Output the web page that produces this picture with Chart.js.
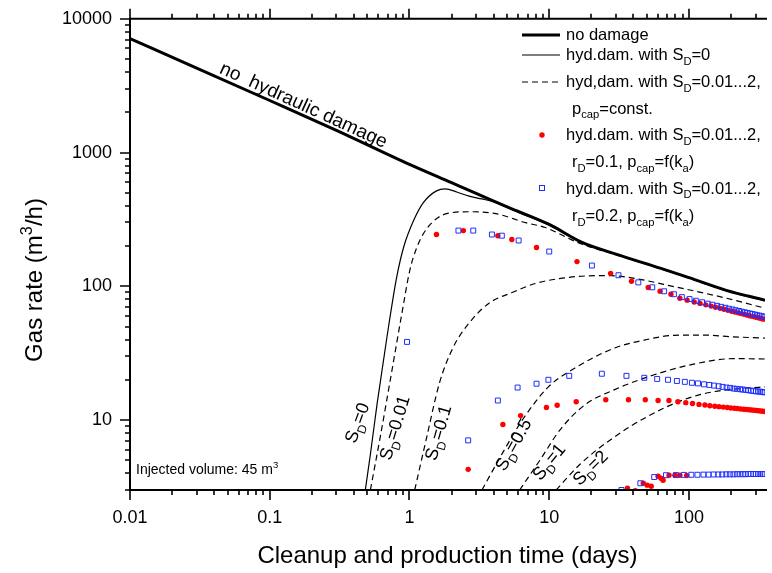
<!DOCTYPE html>
<html><head><meta charset="utf-8">
<script src="https://cdn.jsdelivr.net/npm/chart.js@4.4.1/dist/chart.umd.min.js"></script>
<style>html,body{margin:0;padding:0;background:#fff;}canvas{display:block;}</style>
</head><body>
<canvas id="c" width="772" height="573"></canvas>
<script>
// ---------------- data ----------------
const noDamageT = [0.01, 0.03, 0.1, 0.3, 1, 2, 3, 5, 10, 17, 30, 63, 100, 185, 350];
const noDamageQ = [7100, 4280, 2450, 1465, 815, 595, 495, 393, 290, 214, 174, 136, 116, 93.3, 78.7];

const sd0T = [0.483, 0.527, 0.588, 0.69, 0.81, 0.908, 1.07, 1.26, 1.56, 1.8, 2.2, 2.67, 3.3, 4.1, 5, 6, 10, 17, 30, 63, 100, 185, 350];
const sd0Q = [3, 5.7, 13.5, 41.8, 117, 196, 310, 424, 517, 536, 505, 472, 450, 424, 389, 357, 287, 213, 174, 136, 116, 93.3, 78.7];

const sd001T = [0.525, 0.618, 0.75, 0.883, 1.006, 1.13, 1.33, 1.84, 2.67, 4.15, 6.78, 9.38, 16.1, 30, 63, 100, 185, 350];
const sd001Q = [3, 7.5, 23.7, 63, 132, 196, 270, 349, 361, 349, 299, 275, 212, 172, 135, 115, 92.5, 78];

const sd01T = [1.09, 1.33, 1.64, 2.06, 2.67, 3.71, 5.48, 7.97, 12.4, 21.2, 28, 36.3, 82, 185, 350];
const sd01Q = [3, 7.5, 19.0, 35.2, 53.1, 74.8, 90.2, 105, 115, 120, 120, 117, 98.4, 81.5, 68.6];

const sd05T = [3.3, 4.66, 6.46, 9.86, 15.3, 29.4, 50, 78, 130, 198, 350];
const sd05Q = [3, 5.73, 10.1, 17.7, 24.5, 34.6, 40, 43, 43.2, 42, 41];

const sd1T = [6.14, 8.65, 12.0, 18.0, 29.4, 56.4, 108, 208, 350];
const sd1Q = [3, 5.08, 8.5, 13.0, 16.9, 21.8, 26.2, 28.8, 28.6];

const sd2T = [11.2, 16.6, 29.4, 50.2, 91.8, 150, 250, 350];
const sd2Q = [3, 4.67, 7.5, 10.6, 14.2, 16.3, 17.3, 17.7];

// r_D = 0.1 (red dots)
const redT = [1.56, 2.43, 4.29, 5.40, 8.11, 15.8, 27.5, 38.8, 51.1, 62.1, 74.3, 86, 97, 109, 120, 132, 144, 155, 167, 178, 190, 202, 213, 225, 236, 248, 260, 271, 283, 294, 306, 318, 329, 341,
  2.63, 4.66, 6.24, 9.55, 11.4, 15.6, 25.4, 36.9, 48.7, 60.1, 71.9, 83.3, 94.9, 106, 118, 130, 141, 153, 164, 176, 188, 199, 211, 222, 234, 246, 257, 269, 280, 292, 304, 315, 327, 338, 349,
  36.3, 41.3, 47.1, 50.2, 53.7, 60.1, 63.1, 65.3, 72, 79.3, 86, 96.4];
const redQ = [244, 261, 239, 224, 195, 153, 125, 109, 98, 91.8, 87.3, 81.5, 78.8, 76.4, 74.5, 72.7, 71.1, 69.7, 68.4, 67.3, 66.1, 65.1, 64.2, 63.3, 62.5, 61.7, 61.0, 60.3, 59.6, 59.1, 58.5, 57.9, 57.4, 56.8,
  4.28, 9.27, 10.8, 12.4, 12.9, 13.7, 14.2, 14.2, 14.2, 14.0, 14.0, 13.7, 13.5, 13.3, 13.1, 12.95, 12.8, 12.7, 12.6, 12.5, 12.4, 12.3, 12.25, 12.2, 12.1, 12.05, 12.0, 11.95, 11.9, 11.85, 11.8, 11.75, 11.7, 11.65, 11.6,
  3.1, 2.97, 3.37, 3.26, 3.2, 3.8, 3.67, 3.55, 3.87, 3.87, 3.87, 3.85];

// r_D = 0.2 (blue open squares)
const blueT = [0.96, 2.24, 2.86, 3.89, 4.58, 6.04, 10.0, 20.2, 31.3, 43.4, 54.6, 66.4, 78.0, 88.9, 101, 112, 124, 136, 147, 159, 170, 182, 193, 205, 216, 228, 239, 251, 262, 274, 285, 297, 308, 320, 331, 343,
  2.63, 4.29, 5.94, 8.11, 9.86, 13.9, 23.8, 35.7, 47.9, 59.2, 70.8, 82, 93.4, 105, 116, 128, 140, 151, 163, 174, 186, 197, 209, 220, 232, 243, 255, 266, 278, 289, 301, 312, 324, 335, 347,
  32.9, 44.9, 56.4, 68.5, 80.7, 92, 104, 115, 127, 138, 150, 162, 173, 185, 196, 208, 220, 231, 243, 254, 266, 277, 289, 301, 312, 324, 335, 347];
const blueQ = [38.4, 261, 261, 244, 239, 220, 182, 143, 121, 107, 98.3, 91.8, 87.3, 83, 80.3, 78, 76, 74.2, 72.8, 71.4, 70.2, 69.1, 68, 67.1, 66.2, 65.4, 64.6, 63.9, 63.2, 62.6, 62, 61.4, 60.8, 60.3, 59.8, 59.3,
  7.05, 14.0, 17.5, 18.7, 20.0, 21.4, 22.2, 21.4, 20.7, 20.3, 20.0, 19.6, 19.3, 19.0, 18.8, 18.5, 18.3, 18.1, 17.9, 17.7, 17.5, 17.4, 17.2, 17.1, 17.0, 16.9, 16.8, 16.7, 16.6, 16.5, 16.4, 16.35, 16.3, 16.2, 16.1,
  3.0, 3.37, 3.75, 3.87, 3.88, 3.89, 3.9, 3.9, 3.91, 3.91, 3.92, 3.92, 3.92, 3.93, 3.93, 3.93, 3.94, 3.94, 3.94, 3.94, 3.95, 3.95, 3.95, 3.95, 3.95, 3.95, 3.95, 3.95];

const xTickLabels = ['0.01', '0.1', '1', '10', '100'];
const yTickLabels = ['10', '100', '1000', '10000'];
const curveLabelText = ['=0', '=0.01', '=0.1', '=0.5', '=1', '=2'];

// ---------------- helpers ----------------
const FONT = "'Liberation Sans', Arial, sans-serif";
const pts = (t, q) => t.map((v, i) => ({x: v, y: q[i]}));

function richWidth(ctx, parts, size) {
  let w = 0;
  for (const p of parts) {
    ctx.font = ((p.sub || p.sup) ? size * 0.68 : size) + 'px ' + FONT;
    w += ctx.measureText(p.t).width;
  }
  return w;
}
function drawRich(ctx, parts, x, y, size) {
  let cx = x;
  ctx.textAlign = 'left';
  ctx.textBaseline = 'alphabetic';
  for (const p of parts) {
    const s = (p.sub || p.sup) ? size * 0.68 : size;
    ctx.font = s + 'px ' + FONT;
    const dy = p.sub ? size * 0.28 : (p.sup ? -size * 0.4 : 0);
    ctx.fillText(p.t, cx, y + dy);
    cx += ctx.measureText(p.t).width;
  }
  return cx;
}

const lineDs = (label, t, q, w, dash) => ({
  label, data: pts(t, q), showLine: true, borderColor: '#000', borderWidth: w,
  borderDash: dash || [], pointRadius: 0, fill: false, cubicInterpolationMode: 'monotone', order: 2
});

const decor = {
  id: 'decor',
  beforeDraw(chart) {
    const c = chart.ctx;
    c.save(); c.fillStyle = '#fff'; c.fillRect(0, 0, chart.width, chart.height); c.restore();
  },
  afterDraw(chart) {
    const ctx = chart.ctx, a = chart.chartArea, xs = chart.scales.x, ys = chart.scales.y;
    ctx.save();
    ctx.strokeStyle = '#000'; ctx.fillStyle = '#000';
    // axes
    ctx.lineWidth = 2;
    ctx.beginPath();
    ctx.moveTo(a.left, a.top); ctx.lineTo(a.right + 2, a.top);
    ctx.moveTo(a.left, a.top - 1); ctx.lineTo(a.left, a.bottom + 1);
    ctx.moveTo(a.left - 1, a.bottom); ctx.lineTo(a.right + 2, a.bottom);
    ctx.stroke();
    // ticks
    ctx.lineWidth = 1.6;
    ctx.beginPath();
    for (let n = -2; n <= 2; n++) for (let k = 1; k <= 9; k++) {
      const v = k * Math.pow(10, n);
      if (v < xs.min * 0.9999 || v > xs.max) continue;
      const px = Math.round(xs.getPixelForValue(v));
      const len = k === 1 ? 10 : 5;
      ctx.moveTo(px, a.bottom); ctx.lineTo(px, a.bottom + len);
      ctx.moveTo(px, a.top); ctx.lineTo(px, a.top - len);
    }
    for (let n = 0; n <= 4; n++) for (let k = 1; k <= 9; k++) {
      const v = k * Math.pow(10, n);
      if (v < ys.min * 0.9999 || v > ys.max * 1.0001) continue;
      const py = Math.round(ys.getPixelForValue(v));
      const len = k === 1 ? 10 : 5;
      ctx.moveTo(a.left, py); ctx.lineTo(a.left - len, py);
    }
    ctx.stroke();

    // axis titles
    ctx.font = '24px ' + FONT;
    ctx.textAlign = 'center'; ctx.textBaseline = 'alphabetic';
    ctx.fillText('Cleanup and production time (days)', (a.left + a.right) / 2, 563);
    const yt = [{t: 'Gas rate (m'}, {t: '3', sup: true}, {t: '/h)'}];
    ctx.save();
    ctx.translate(42, 280); ctx.rotate(-Math.PI / 2);
    drawRich(ctx, yt, -richWidth(ctx, yt, 24) / 2, 0, 24);
    ctx.restore();

    // curve annotations
    const rot = (x, y, ang, parts, size) => {
      ctx.save();
      ctx.translate(xs.getPixelForValue(x), ys.getPixelForValue(y));
      ctx.rotate(ang * Math.PI / 180);
      drawRich(ctx, parts, -richWidth(ctx, parts, size) / 2, size * 0.36, size);
      ctx.restore();
    };
    rot(0.176, 2300, 24.5, [{t: 'no  hydraulic damage'}], 19);
    const lab = [[0.418, 9.57, -70], [0.776, 8.79, -73], [1.59, 8.07, -74], [5.48, 6.58, -61], [9.86, 4.91, -51], [19.5, 4.43, -45]];
    lab.forEach((l, i) => rot(l[0], l[1], l[2], [{t: 'S'}, {t: 'D', sub: true}, {t: curveLabelText[i]}], 18));

    // injected volume
    drawRich(ctx, [{t: 'Injected volume: 45 m'}, {t: '3', sup: true}], a.left + 6, a.bottom - 16, 14);

    // legend
    const LS = 16.5, tx = 566, tx2 = 572, lx0 = 522, lx1 = 560;
    ctx.lineWidth = 3; ctx.setLineDash([]);
    ctx.beginPath(); ctx.moveTo(lx0, 35); ctx.lineTo(lx1, 35); ctx.stroke();
    ctx.lineWidth = 1.2;
    ctx.beginPath(); ctx.moveTo(lx0, 55); ctx.lineTo(lx1, 55); ctx.stroke();
    ctx.setLineDash([6, 4]);
    ctx.beginPath(); ctx.moveTo(lx0, 82); ctx.lineTo(lx1, 82); ctx.stroke();
    ctx.setLineDash([]);
    ctx.fillStyle = '#ff0000';
    ctx.beginPath(); ctx.arc(542, 135, 2.7, 0, Math.PI * 2); ctx.fill();
    ctx.strokeStyle = '#1f2fff'; ctx.lineWidth = 1;
    ctx.strokeRect(539.5, 185.5, 5, 5);
    ctx.fillStyle = '#000';
    drawRich(ctx, [{t: 'no damage'}], tx, 40, LS);
    drawRich(ctx, [{t: 'hyd.dam. with S'}, {t: 'D', sub: true}, {t: '=0'}], tx, 60, LS);
    drawRich(ctx, [{t: 'hyd,dam. with S'}, {t: 'D', sub: true}, {t: '=0.01...2,'}], tx, 87, LS);
    drawRich(ctx, [{t: 'p'}, {t: 'cap', sub: true}, {t: '=const.'}], tx2, 113.5, LS);
    drawRich(ctx, [{t: 'hyd.dam. with S'}, {t: 'D', sub: true}, {t: '=0.01...2,'}], tx, 140, LS);
    drawRich(ctx, [{t: 'r'}, {t: 'D', sub: true}, {t: '=0.1, p'}, {t: 'cap', sub: true}, {t: '=f(k'}, {t: 'a', sub: true}, {t: ')'}], tx2, 167, LS);
    drawRich(ctx, [{t: 'hyd.dam. with S'}, {t: 'D', sub: true}, {t: '=0.01...2,'}], tx, 193.5, LS);
    drawRich(ctx, [{t: 'r'}, {t: 'D', sub: true}, {t: '=0.2, p'}, {t: 'cap', sub: true}, {t: '=f(k'}, {t: 'a', sub: true}, {t: ')'}], tx2, 221, LS);
    ctx.restore();
  }
};

const fmtX = v => { const s = String(+v.toPrecision(6)); return xTickLabels.includes(s) ? s : ''; };
const fmtY = v => { const s = String(+v.toPrecision(6)); return yTickLabels.includes(s) ? s : ''; };

new Chart(document.getElementById('c'), {
  type: 'scatter',
  data: {
    datasets: [
      {label: 'r_D=0.2', data: pts(blueT, blueQ), pointStyle: 'rect', pointRadius: 3.5, pointBorderWidth: 1,
       pointBorderColor: '#1f2fff', pointBackgroundColor: 'rgba(0,0,0,0)', showLine: false, order: 0},
      {label: 'r_D=0.1', data: pts(redT, redQ), pointStyle: 'circle', pointRadius: 2.7, pointBorderWidth: 0,
       pointBackgroundColor: '#ff0000', pointBorderColor: '#ff0000', showLine: false, order: 1},
      lineDs('no damage', noDamageT, noDamageQ, 3),
      lineDs('S_D=0', sd0T, sd0Q, 1.2),
      lineDs('S_D=0.01', sd001T, sd001Q, 1.2, [6, 4]),
      lineDs('S_D=0.1', sd01T, sd01Q, 1.2, [6, 4]),
      lineDs('S_D=0.5', sd05T, sd05Q, 1.2, [6, 4]),
      lineDs('S_D=1', sd1T, sd1Q, 1.2, [6, 4]),
      lineDs('S_D=2', sd2T, sd2Q, 1.2, [6, 4])
    ]
  },
  options: {
    responsive: false, animation: false, devicePixelRatio: 1,
    layout: {padding: {top: 17, left: 0, right: 0, bottom: 0}},
    plugins: {legend: {display: false}, tooltip: {enabled: false}},
    scales: {
      x: {
        type: 'logarithmic', position: 'bottom', min: 0.01, max: 350,
        grid: {display: true, drawOnChartArea: false, drawTicks: true, tickLength: 10, color: 'rgba(0,0,0,0)'},
        border: {display: false},
        ticks: {autoSkip: false, maxRotation: 0, padding: 7, color: '#000', font: {family: FONT, size: 18}, callback: fmtX},
        afterFit: s => { s.height = 83; }
      },
      y: {
        type: 'logarithmic', position: 'left', min: 3, max: 10000,
        grid: {display: true, drawOnChartArea: false, drawTicks: true, tickLength: 10, color: 'rgba(0,0,0,0)'},
        border: {display: false},
        ticks: {autoSkip: false, padding: 8, color: '#000', font: {family: FONT, size: 18}, callback: fmtY},
        afterFit: s => { s.width = 130; }
      }
    }
  },
  plugins: [decor]
});
</script>
</body></html>
